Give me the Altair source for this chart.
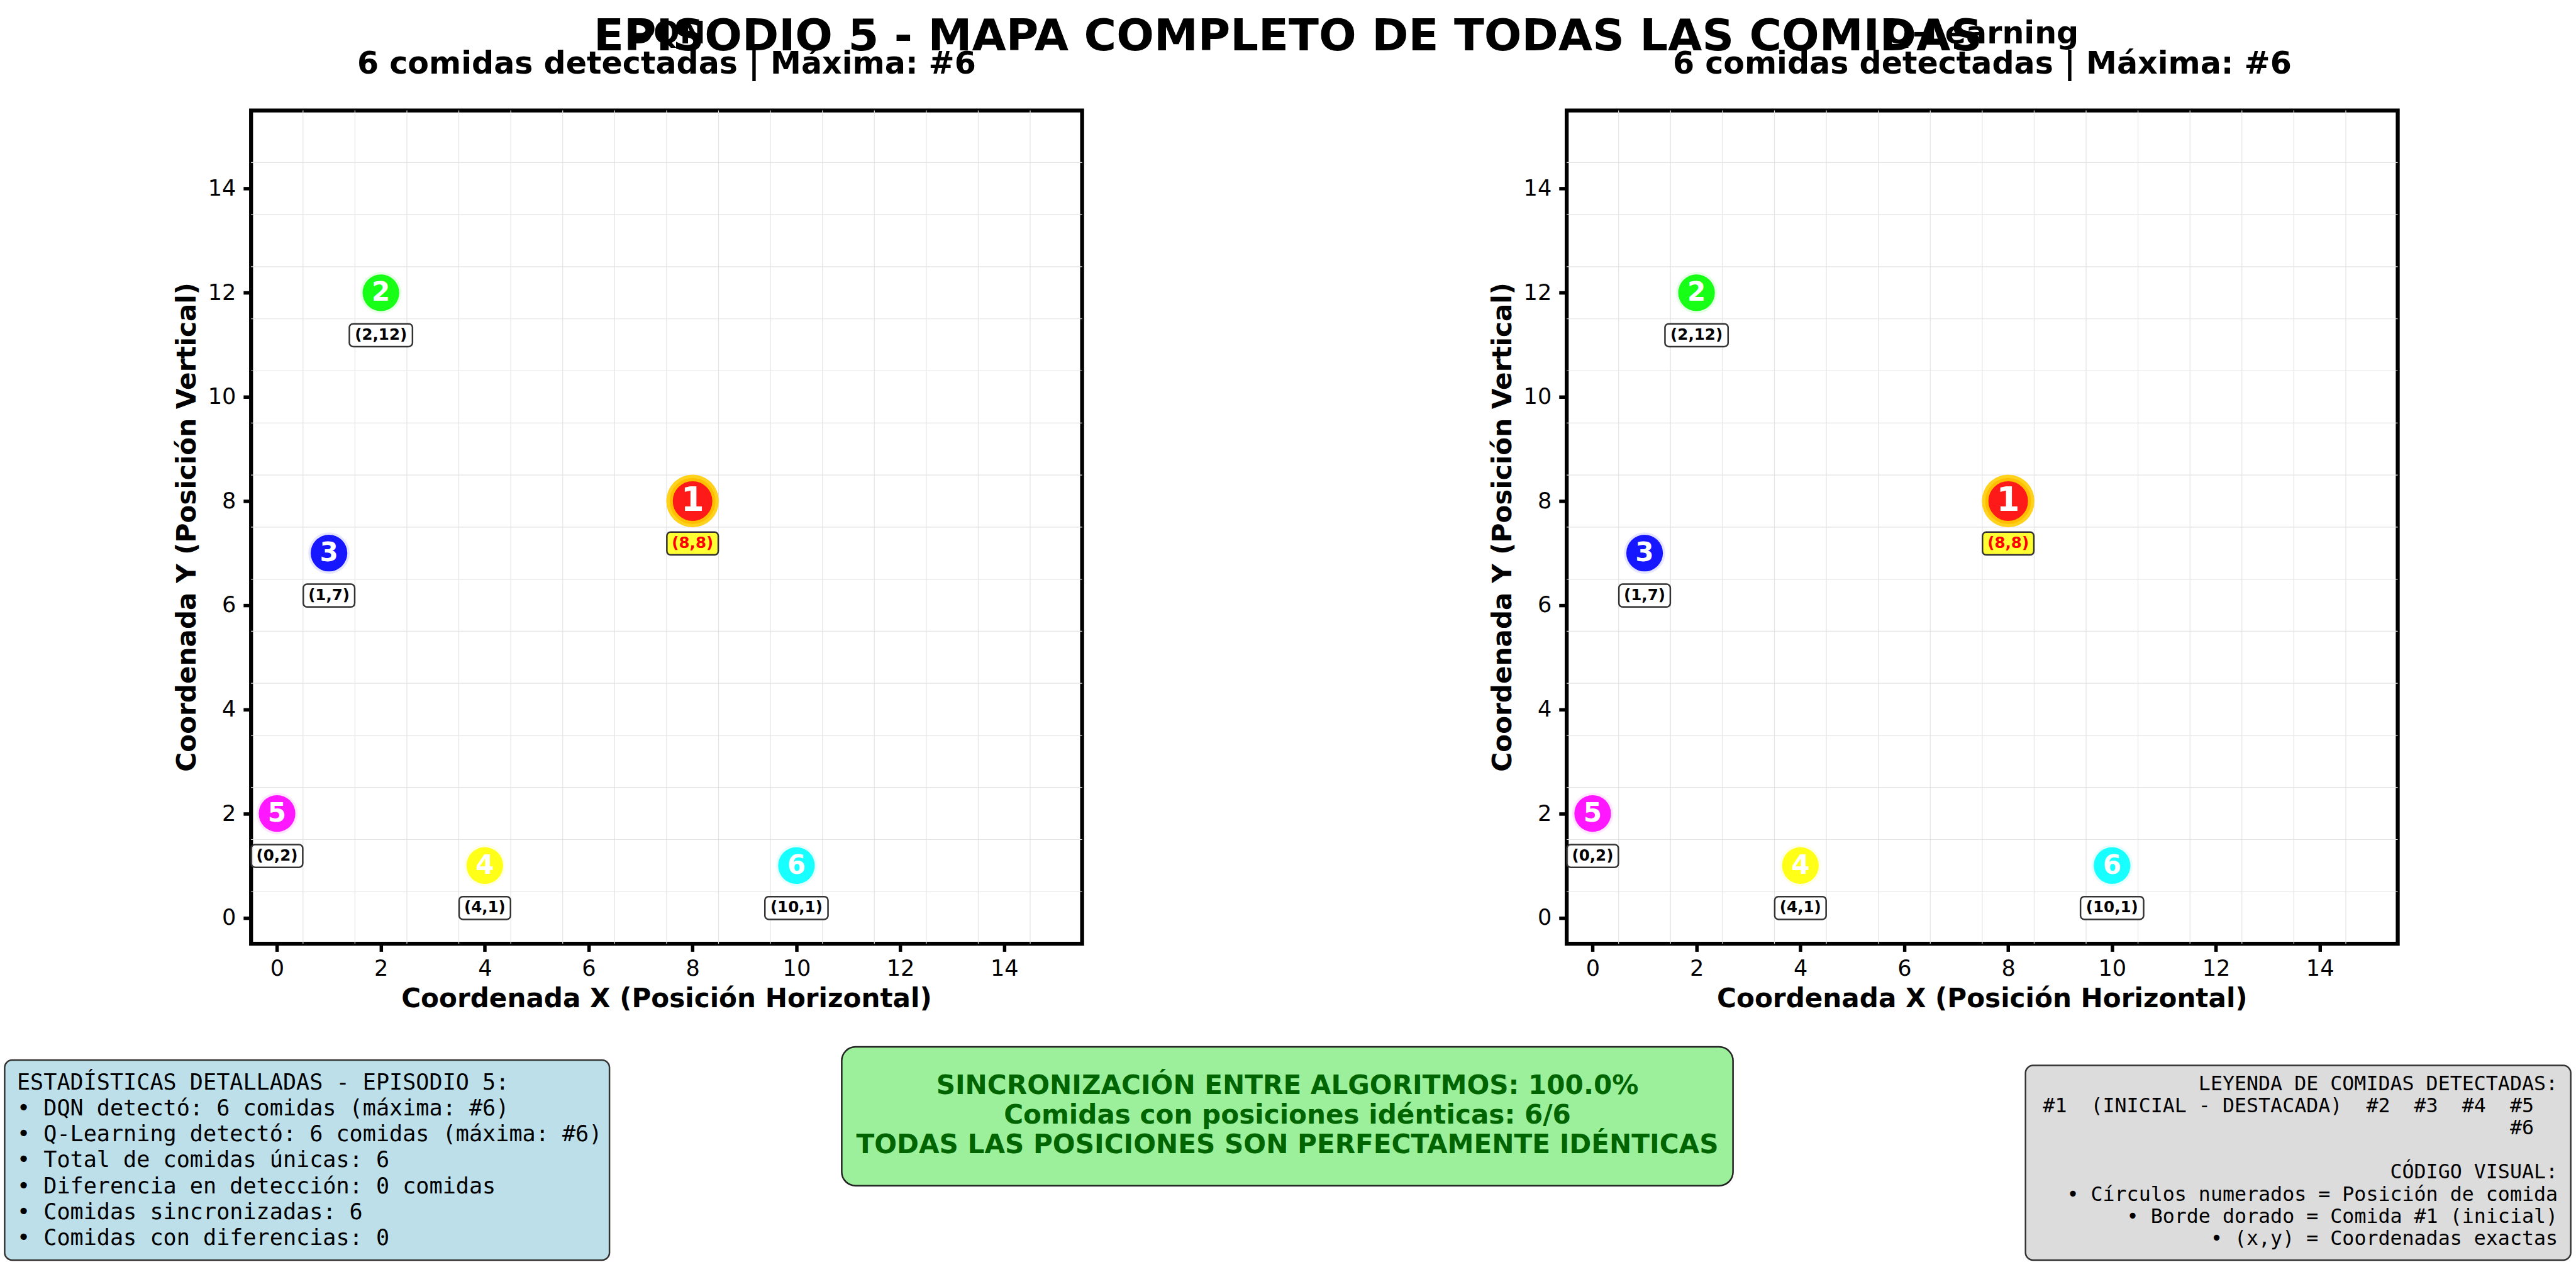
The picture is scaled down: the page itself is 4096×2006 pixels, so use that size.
import altair as alt
import pandas as pd

# ---------------- data ----------------
algorithms = ["DQN", "Q-Learning"]
detected_counts = [6, 6]
max_food = [6, 6]
food_num = [1, 2, 3, 4, 5, 6]
food_x = [8, 2, 1, 4, 0, 10]
food_y = [8, 12, 7, 1, 2, 1]
axis_ticks = [0, 2, 4, 6, 8, 10, 12, 14]
cell_edges = [0.5, 1.5, 2.5, 3.5, 4.5, 5.5, 6.5, 7.5, 8.5, 9.5, 10.5, 11.5, 12.5, 13.5, 14.5]

suptitle = "EPISODIO 5 - MAPA COMPLETO DE TODAS LAS COMIDAS"
x_title = "Coordenada X (Posición Horizontal)"
y_title = "Coordenada Y (Posición Vertical)"

stats_lines = [
    "ESTADÍSTICAS DETALLADAS - EPISODIO 5:",
    "• DQN detectó: 6 comidas (máxima: #6)",
    "• Q-Learning detectó: 6 comidas (máxima: #6)",
    "• Total de comidas únicas: 6",
    "• Diferencia en detección: 0 comidas",
    "• Comidas sincronizadas: 6",
    "• Comidas con diferencias: 0",
]
sync_lines = [
    "SINCRONIZACIÓN ENTRE ALGORITMOS: 100.0%",
    "Comidas con posiciones idénticas: 6/6",
    "TODAS LAS POSICIONES SON PERFECTAMENTE IDÉNTICAS",
]
legend_lines = [
    "LEYENDA DE COMIDAS DETECTADAS:",
    "#1  (INICIAL - DESTACADA)  #2  #3  #4  #5  ",
    "#6  ",
    "",
    "CÓDIGO VISUAL:",
    "• Círculos numerados = Posición de comida",
    "• Borde dorado = Comida #1 (inicial)",
    "• (x,y) = Coordenadas exactas",
]

# ---------------- style ----------------
food_colors = ["#FF0000", "#00FF00", "#0000FF", "#FFFF00", "#FF00FF", "#00FFFF"]
FONT = "DejaVu Sans"
MONO = "DejaVu Sans Mono"
W, H = 1324, 1327
X0, Y0 = 396, 170.6
FIG_W, FIG_H = 4096, 2006
RIGHT_X0 = 2492


def nb(s):
    # keep every space (including trailing ones) visible in SVG text
    return s.replace(" ", "\u00a0") + "\u200b"


xs = alt.Scale(domain=[-0.5, 15.5], nice=False, zero=False)
ys = alt.Scale(domain=[-0.5, 15.5], nice=False, zero=False)
common_axis = dict(values=axis_ticks, title=None, grid=False, domain=False,
                   labelFontSize=35.2, labelFont=FONT, labelColor="black",
                   tickColor="black", tickWidth=5.5, tickSize=12.4, labelAngle=0)
xaxis = alt.Axis(labelPadding=10, **common_axis)
yaxis = alt.Axis(labelPadding=12, **common_axis)


def X(f):
    return alt.X(f, scale=xs, axis=xaxis)


def Y(f):
    return alt.Y(f, scale=ys, axis=yaxis)


one = alt.Data(values=[{}])


def const_text(text, x, y, size, weight="bold", align="center", font=FONT,
               color="black", angle=0, line_height=None, baseline="alphabetic"):
    kw = dict(text=text, fontSize=size, fontWeight=weight, align=align, font=font,
              color=color, baseline=baseline)
    if angle:
        kw["angle"] = angle
    if line_height:
        kw["lineHeight"] = line_height
    return alt.Chart(one).mark_text(**kw).encode(x=alt.value(x), y=alt.value(y))


def const_rect(x1, x2, y1, y2, **kw):
    return alt.Chart(one).mark_rect(**kw).encode(
        x=alt.value(x1), x2=alt.value(x2), y=alt.value(y1), y2=alt.value(y2))


food_df = pd.DataFrame({"num": food_num, "x": food_x, "y": food_y})
food_df["label"] = ["(%d,%d)" % (a, b) for a, b in zip(food_x, food_y)]
grid_df = pd.DataFrame({"g": cell_edges})

color_enc = alt.Color("num:N", scale=alt.Scale(domain=food_num, range=food_colors), legend=None)


def panel(alg, n, mx, extras=False):
    layers = []
    if extras:
        layers.append(const_rect(-X0, FIG_W - X0, -Y0, FIG_H - Y0, opacity=0))
    grid = alt.Chart(grid_df)
    layers.append(grid.mark_rule(color="#E4E4E4", strokeWidth=1.2).encode(
        x=X("g:Q"), y=alt.value(0), y2=alt.value(H)))
    layers.append(grid.mark_rule(color="#E4E4E4", strokeWidth=1.2).encode(
        y=Y("g:Q"), x=alt.value(0), x2=alt.value(W)))

    base = alt.Chart(food_df)
    others = base.transform_filter("datum.num != 1")
    first = base.transform_filter("datum.num == 1")

    layers.append(others.mark_circle(size=4337, opacity=0.1).encode(
        x=X("x:Q"), y=Y("y:Q"), color=color_enc))
    layers.append(others.mark_circle(size=3409, opacity=0.9).encode(
        x=X("x:Q"), y=Y("y:Q"), color=color_enc))
    layers.append(first.mark_circle(size=7028, color="#FFD21E", opacity=1).encode(
        x=X("x:Q"), y=Y("y:Q")))
    layers.append(first.mark_circle(size=4634, fill="#FF1A1A", stroke="#FFBF00",
                                    strokeWidth=5, opacity=1).encode(
        x=X("x:Q"), y=Y("y:Q")))
    layers.append(others.mark_text(font=FONT, fontWeight="bold", fontSize=42.2, color="white",
                                   baseline="middle", align="center").encode(
        x=X("x:Q"), y=Y("y:Q"), text="num:N"))
    layers.append(first.mark_text(font=FONT, fontWeight="bold", fontSize=52.8, color="white",
                                  baseline="middle", align="center").encode(
        x=X("x:Q"), y=Y("y:Q"), text="num:N"))

    lab = base.transform_calculate(
        lw="length(datum.label) * 0.225 - 0.135",
        bx1="datum.x - datum.lw / 2",
        bx2="datum.x + datum.lw / 2",
        ly="datum.y - 0.815",
        by1="datum.y - 0.815 - 0.219",
        by2="datum.y - 0.815 + 0.219",
    )
    lab_o = lab.transform_filter("datum.num != 1")
    lab_1 = lab.transform_filter("datum.num == 1")
    layers.append(lab_o.mark_rect(fill="white", fillOpacity=0.85, stroke="#333333",
                                  strokeWidth=2.5, cornerRadius=6).encode(
        x=X("bx1:Q"), x2="bx2:Q", y=Y("by1:Q"), y2="by2:Q"))
    layers.append(lab_1.mark_rect(fill="#FFFF33", stroke="#333333",
                                  strokeWidth=2.5, cornerRadius=6).encode(
        x=X("bx1:Q"), x2="bx2:Q", y=Y("by1:Q"), y2="by2:Q"))
    layers.append(lab_o.mark_text(font=FONT, fontWeight="bold", fontSize=24.6, color="black",
                                  baseline="middle", align="center").encode(
        x=X("x:Q"), y=Y("ly:Q"), text="label:N"))
    layers.append(lab_1.mark_text(font=FONT, fontWeight="bold", fontSize=24.6, color="#FF0000",
                                  baseline="middle", align="center").encode(
        x=X("x:Q"), y=Y("ly:Q"), text="label:N"))

    # panel titles and axis titles
    layers.append(const_text(alg, W / 2, 64.2 - Y0, 49.2))
    layers.append(const_text("%d comidas detectadas | Máxima: #%d" % (n, mx), W / 2, 111.5 - Y0, 49.2))
    layers.append(const_text(x_title, W / 2, 1598.6 - Y0, 42.2))
    layers.append(const_text(y_title, -88.7, H / 2, 42.2, angle=270))

    if extras:
        layers.append(const_text(suptitle, FIG_W / 2 - X0, 74.6 - Y0, 70.4))
        # stats box
        layers.append(const_rect(3.4 - X0, 967 - X0, 1683 - Y0, 2001.5 - Y0,
                                 fill="#BDDFEA", stroke="#333333", strokeWidth=2.5, cornerRadius=12))
        layers.append(const_text([nb(s) for s in stats_lines], 23 - X0, 1729.7 - Y0, 35.2,
                                 weight="normal", align="left", font=MONO, line_height=41.3))
        # sync box
        layers.append(const_rect(1337 - X0, 2757 - X0, 1662 - Y0, 1883 - Y0,
                                 fill="#9CF09C", stroke="#222222", strokeWidth=2.5, cornerRadius=22))
        layers.append(const_text(sync_lines, 2047 - X0, 1737 - Y0, 42.2,
                                 color="#006400", line_height=47.3))
        # legend box
        layers.append(const_rect(3223 - X0, 4091.6 - X0, 1691.5 - Y0, 2001.5 - Y0,
                                 fill="#DCDCDC", stroke="#333333", strokeWidth=2.5, cornerRadius=12))
        layers.append(const_text([nb(s) for s in legend_lines], 4071 - X0, 1731 - Y0, 31.7,
                                 weight="normal", align="right", font=MONO, line_height=35.2))

    return alt.layer(*layers).properties(width=W, height=H)


left = panel(algorithms[0], detected_counts[0], max_food[0], extras=True)
right = panel(algorithms[1], detected_counts[1], max_food[1])

chart = (
    alt.hconcat(left, right, spacing=RIGHT_X0 - X0 - W, bounds="flush")
    .properties(padding=0, background="white")
    .configure_view(stroke="black", strokeWidth=6.3)
)

chart.save("out.html", embed_options={"renderer": "svg", "actions": False})
